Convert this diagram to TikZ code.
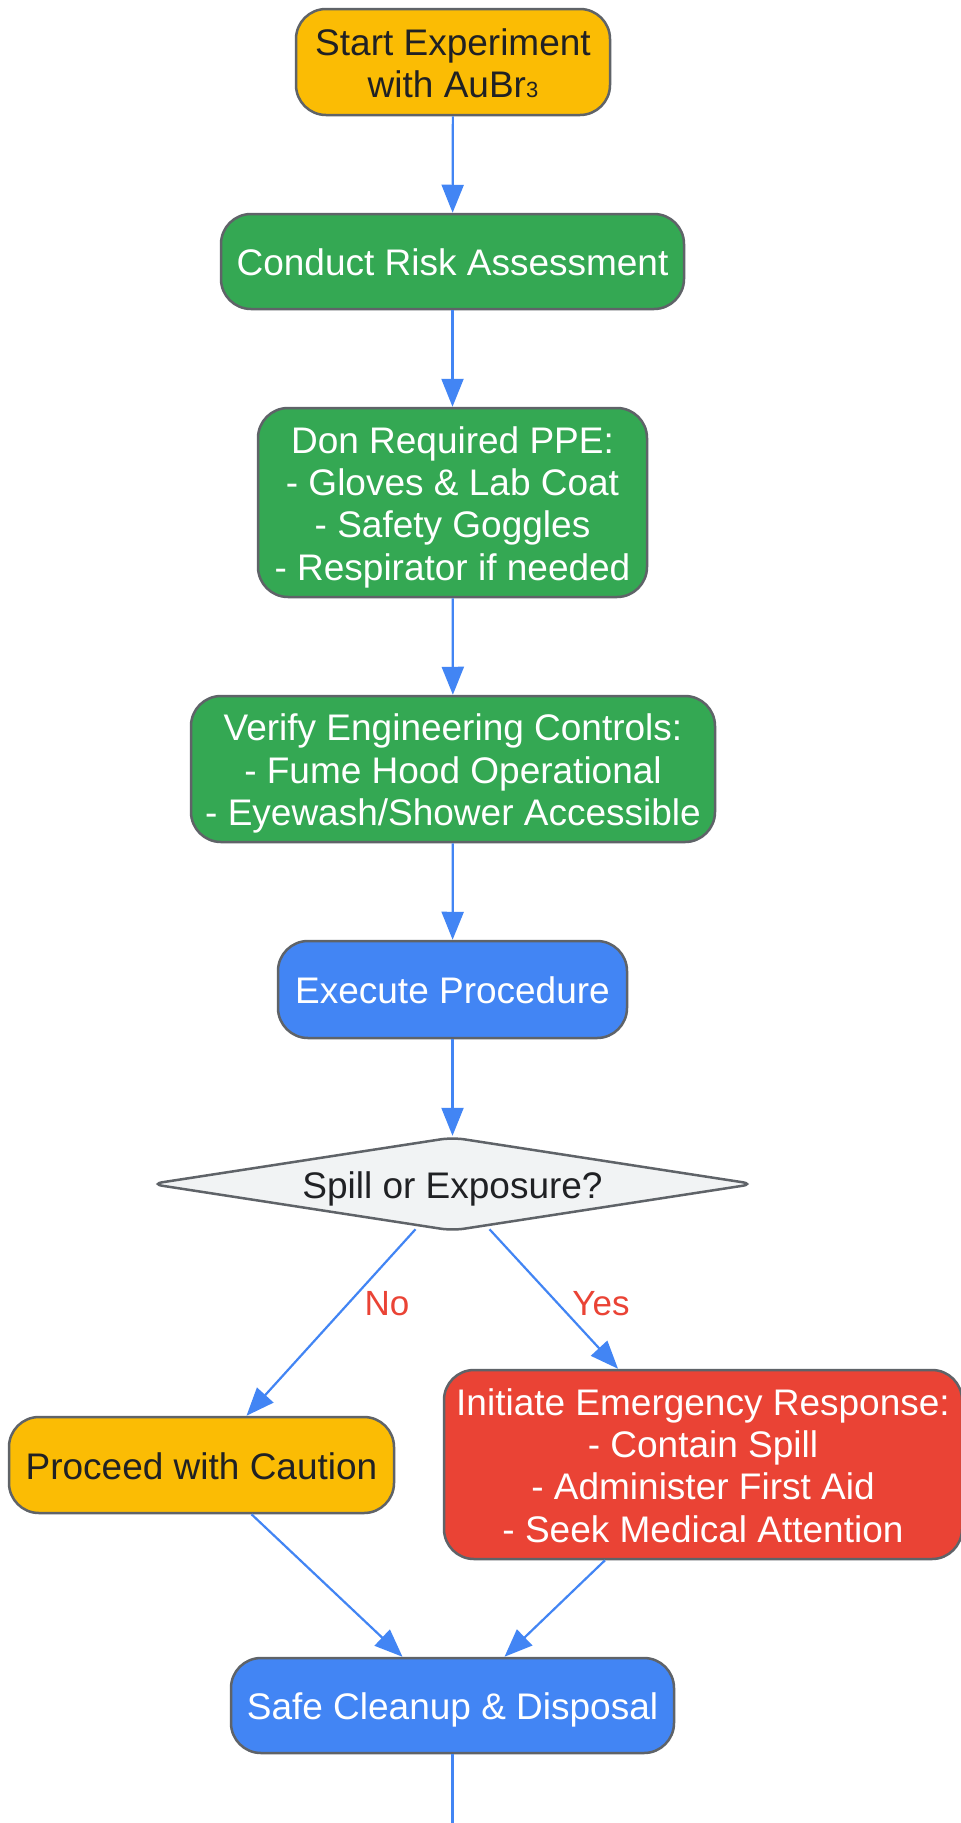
\documentclass[tikz,border=0pt]{standalone}
\usepackage{fontspec}
\setmainfont{Liberation Sans}
\usetikzlibrary{shapes.geometric,arrows.meta,calc}
\definecolor{gyellow}{HTML}{FBBC04}
\definecolor{ggreen}{HTML}{34A853}
\definecolor{gblue}{HTML}{4285F4}
\definecolor{gred}{HTML}{EA4335}
\definecolor{bordergray}{HTML}{5F6368}
\definecolor{darktext}{HTML}{202124}
\definecolor{diafill}{HTML}{F1F3F4}
\newcommand\mytxt[1]{\raisebox{-24pt}{\smash{\begin{tabular}{@{}c@{}}#1\end{tabular}}}}
\begin{document}
\begin{tikzpicture}[x=1pt,y=-1pt,
  box/.style={draw=bordergray, line width=2.5pt, rounded corners=30pt,
    inner sep=0pt, font=\fontsize{37}{42.4}\selectfont},
  decision/.style={diamond, draw=bordergray, line width=2.5pt, fill=diafill, aspect=6.5,
    minimum width=604pt, minimum height=94pt, inner sep=0pt, rounded corners=12pt,
    text=darktext, font=\fontsize{37}{42.4}\selectfont},
  flow/.style={draw=gblue, line width=2.2pt, -{Triangle[length=28pt,width=22pt]}},
  lbl/.style={text=gred, font=\fontsize{35}{40}\selectfont, inner sep=0pt}]
\fill[white] (0,0) rectangle (961,1823);
\useasboundingbox (0,0) rectangle (961,1823);
\clip (0,0) rectangle (961,1823);

\node[box, fill=gyellow, text=darktext, minimum width=314pt, minimum height=106pt] (start) at (453,62)
  {\mytxt{Start Experiment\\with AuBr{\fontsize{22}{22}\selectfont 3}}};
\node[box, fill=ggreen, text=white, minimum width=463pt, minimum height=95pt] (risk) at (452.5,261.5)
  {\mytxt{Conduct Risk Assessment}};
\node[box, fill=ggreen, text=white, minimum width=389pt, minimum height=189pt] (ppe) at (452.5,502.5)
  {\mytxt{Don Required PPE:\\- Gloves \& Lab Coat\\- Safety Goggles\\- Respirator if needed}};
\node[box, fill=ggreen, text=white, minimum width=524pt, minimum height=146pt] (eng) at (453,769)
  {\mytxt{Verify Engineering Controls:\\- Fume Hood Operational\\- Eyewash/Shower Accessible}};
\node[box, fill=gblue, text=white, minimum width=349pt, minimum height=97pt] (exec) at (452.5,989.5)
  {\mytxt{Execute Procedure}};
\node[decision] (dia) at (452.5,1184) {\mytxt{Spill or Exposure?}};
\node[box, fill=gyellow, text=darktext, minimum width=385pt, minimum height=96pt] (pro) at (201.5,1465)
  {\mytxt{Proceed with Caution}};
\node[box, fill=gred, text=white, minimum width=518pt, minimum height=189pt] (em) at (703,1464.5)
  {\mytxt{Initiate Emergency Response:\\- Contain Spill\\- Administer First Aid\\- Seek Medical Attention}};
\node[box, fill=gblue, text=white, minimum width=443pt, minimum height=95pt] (safe) at (452.5,1705.5)
  {\mytxt{Safe Cleanup \& Disposal}};
\coordinate (endpt) at (452.5,1852);

\draw[flow] (start) -- (risk);
\draw[flow] (risk) -- (ppe);
\draw[flow] (ppe) -- (eng);
\draw[flow] (eng) -- (exec);
\draw[flow] (exec) -- (dia);
\draw[flow] ($(dia.south)+(-37,-3)$) -- ([xshift=45pt]pro.north);
\draw[flow] ($(dia.south)+(37,-3)$) -- ([xshift=-85pt]em.north);
\draw[flow] ([xshift=50pt]pro.south) -- ([xshift=-50pt]safe.north);
\draw[flow] ([xshift=-98pt]em.south) -- ([xshift=52pt]safe.north);
\draw[flow] (safe) -- (endpt);
\node[lbl] (nolbl) at (387,1304) {No};
\node[lbl] (yeslbl) at (601,1304) {Yes};
\end{tikzpicture}
\end{document}
